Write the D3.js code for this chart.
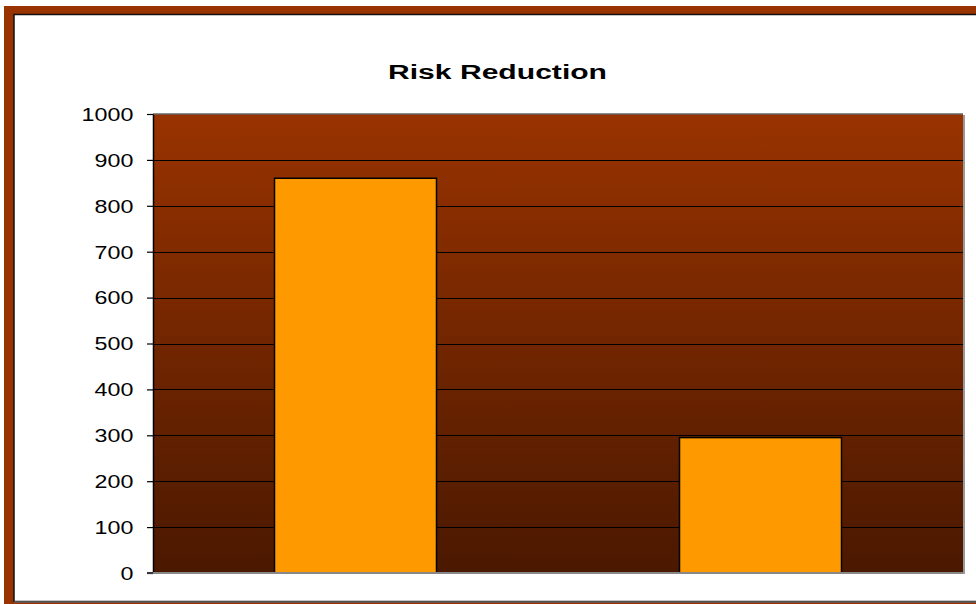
<!DOCTYPE html>
<html>
<head>
<meta charset="utf-8">
<script src="https://cdn.jsdelivr.net/npm/d3@7"></script>
<style>
  body { margin: 0; background: #fff; }
  svg { display: block; }
</style>
</head>
<body>
<div id="chart"></div>
<script>
// chart data
const categories = ["Before", "After"];
const values = [860, 295];
const yTicks = [0, 100, 200, 300, 400, 500, 600, 700, 800, 900, 1000];
const title = "Risk Reduction";

const WIDTH = 976, HEIGHT = 604;
const PLOT = {left: 153, right: 963, top: 114, bottom: 573};

const svg = d3.select("#chart")
  .append("svg")
  .attr("width", WIDTH)
  .attr("height", HEIGHT);

// brown frame + white chart area
svg.append("rect")
  .attr("x", 4).attr("y", 6)
  .attr("width", WIDTH).attr("height", HEIGHT)
  .attr("fill", "#993300");
svg.append("rect")
  .attr("x", 14).attr("y", 14.5)
  .attr("width", WIDTH).attr("height", 587)
  .attr("fill", "#fff")
  .attr("stroke", "#111").attr("stroke-width", 1.5);
svg.append("line")
  .attr("x1", 14).attr("x2", WIDTH)
  .attr("y1", 602).attr("y2", 602)
  .attr("stroke", "#666").attr("stroke-width", 1.5);

// gradient for plot background
const defs = svg.append("defs");
const grad = defs.append("linearGradient")
  .attr("id", "bg").attr("x1", 0).attr("y1", 0).attr("x2", 0).attr("y2", 1);
grad.append("stop").attr("offset", "0%").attr("stop-color", "#993300");
grad.append("stop").attr("offset", "100%").attr("stop-color", "#4a1800");

const x = d3.scaleBand()
  .domain(categories)
  .range([PLOT.left, PLOT.right])
  .paddingInner(0.6)
  .paddingOuter(0.3);

const y = d3.scaleLinear()
  .domain([0, 1000])
  .range([PLOT.bottom, PLOT.top]);

// plot area with shadow on right/bottom
svg.append("rect")
  .attr("x", PLOT.left + 2).attr("y", PLOT.top + 1)
  .attr("width", PLOT.right - PLOT.left).attr("height", PLOT.bottom - PLOT.top)
  .attr("fill", "#999");
svg.append("rect")
  .attr("x", PLOT.left).attr("y", PLOT.top)
  .attr("width", PLOT.right - PLOT.left).attr("height", PLOT.bottom - PLOT.top)
  .attr("fill", "url(#bg)");
svg.append("line")
  .attr("x1", PLOT.left).attr("x2", PLOT.right)
  .attr("y1", PLOT.top).attr("y2", PLOT.top)
  .attr("stroke", "#666").attr("stroke-width", 1.5);

// gridlines
svg.append("g")
  .selectAll("line")
  .data(yTicks.filter(d => d > 0 && d < 1000))
  .enter()
  .append("line")
    .attr("x1", PLOT.left).attr("x2", PLOT.right)
    .attr("y1", d => Math.round(y(d)) + 0.5)
    .attr("y2", d => Math.round(y(d)) + 0.5)
    .attr("stroke", "#000").attr("stroke-width", 1.2);

// bars
svg.append("g")
  .selectAll("rect")
  .data(values)
  .enter()
  .append("rect")
    .attr("x", (d, i) => x(categories[i]))
    .attr("y", d => y(d))
    .attr("width", x.bandwidth())
    .attr("height", d => y(0) - y(d))
    .attr("fill", "#ff9900")
    .attr("stroke", "#000")
    .attr("stroke-width", 1.5);

// y axis
const yAxis = d3.axisLeft(y)
  .tickValues(yTicks)
  .tickFormat(d3.format("d"))
  .tickSize(6)
  .tickSizeOuter(0);

const yG = svg.append("g")
  .attr("transform", `translate(${PLOT.left},0)`)
  .call(yAxis);
yG.select(".domain").attr("stroke", "#000").attr("stroke-width", 1.5);
yG.selectAll(".tick line").attr("stroke", "#000").attr("stroke-width", 1.2);
// the original is stretched horizontally, so widen the labels a bit
yG.selectAll(".tick text")
  .attr("fill", "#000")
  .style("font-family", "Arial, 'Liberation Sans', sans-serif")
  .style("font-size", "17.5px")
  .attr("text-anchor", "end")
  .attr("transform", "translate(-17,0) scale(1.33,1)")
  .attr("x", -2)
  .attr("dy", "0.36em");

// x axis baseline
svg.append("line")
  .attr("x1", PLOT.left - 6).attr("x2", PLOT.right)
  .attr("y1", PLOT.bottom).attr("y2", PLOT.bottom)
  .attr("stroke", "#888").attr("stroke-width", 2);
svg.append("line")
  .attr("x1", PLOT.left - 6).attr("x2", PLOT.left)
  .attr("y1", PLOT.bottom).attr("y2", PLOT.bottom)
  .attr("stroke", "#000").attr("stroke-width", 1.2);

// title
svg.append("text")
  .attr("x", 388).attr("y", 79)
  .attr("textLength", 219)
  .attr("lengthAdjust", "spacingAndGlyphs")
  .style("font-family", "Arial, 'Liberation Sans', sans-serif")
  .style("font-size", "20px")
  .style("font-weight", "bold")
  .text(title);
</script>
</body>
</html>
